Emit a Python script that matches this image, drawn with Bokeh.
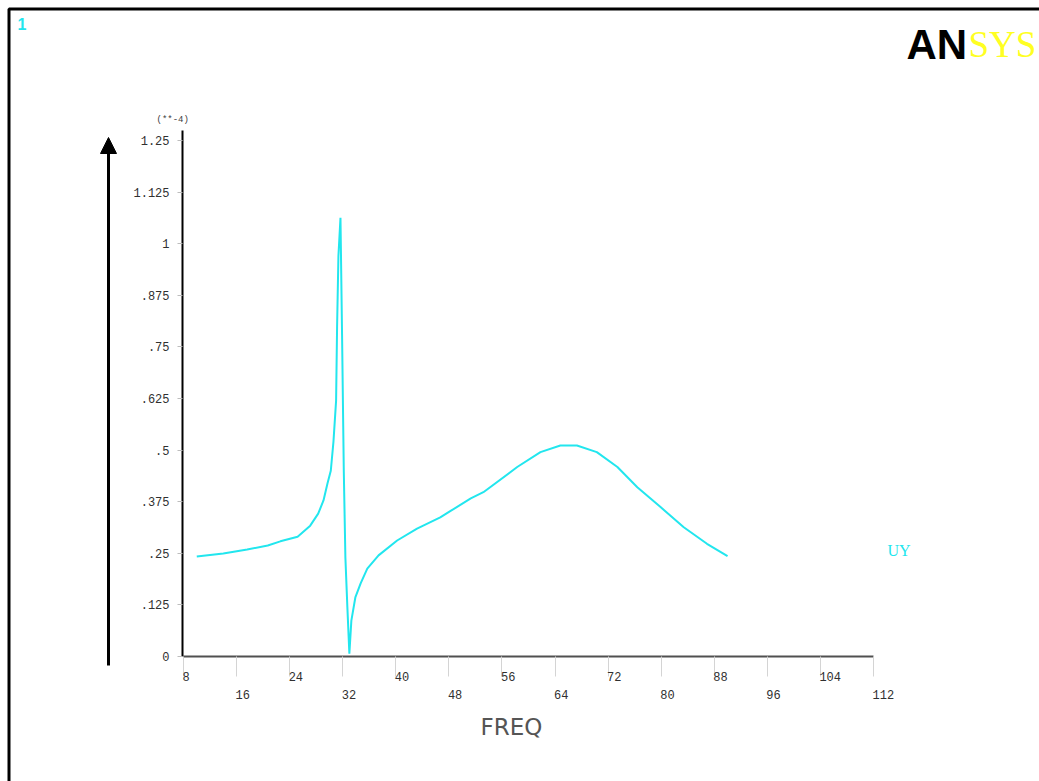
from bokeh.plotting import figure
from bokeh.models import (Range1d, FixedTicker, ColumnDataSource, LabelSet, Label,
                          Arrow, NormalHead)
from bokeh.core.properties import value
from bokeh.embed import file_html
from bokeh.resources import INLINE

# ---------------- data ----------------
freq = [10, 14, 17.6, 20.7, 22.6, 25.2, 27.1, 28.3, 29.1, 29.7, 30.2, 30.6, 31.0,
        31.15, 31.35, 31.66, 31.9, 32.16, 32.4, 32.7, 33.0, 33.3, 33.9, 34.7, 35.7,
        37.4, 40.2, 43.2, 46.7, 48.2, 51.3, 53.2, 58.3, 61.8, 64.8, 67.3, 70.3,
        73.4, 76.4, 79.9, 83.4, 86.9, 90]
uy = [0.242, 0.2495, 0.259, 0.269, 0.279, 0.29, 0.317, 0.346, 0.378, 0.419, 0.45,
      0.52, 0.62, 0.80, 0.97, 1.063, 0.778, 0.45, 0.24, 0.119, 0.007, 0.087, 0.143,
      0.177, 0.213, 0.245, 0.281, 0.31, 0.337, 0.352, 0.383, 0.398, 0.459, 0.495,
      0.511, 0.511, 0.495, 0.459, 0.41, 0.362, 0.313, 0.273, 0.243]

x_ticks = [8, 16, 24, 32, 40, 48, 56, 64, 72, 80, 88, 96, 104, 112]
x_tick_labels = ["8", "16", "24", "32", "40", "48", "56", "64", "72", "80", "88", "96", "104", "112"]
y_ticks = [0, 0.125, 0.25, 0.375, 0.5, 0.625, 0.75, 0.875, 1.0, 1.125, 1.25]
y_tick_labels = ["0", ".125", ".25", ".375", ".5", ".625", ".75", ".875", "1", "1.125", "1.25"]

X0, X1, Y0, Y1 = 8, 112, 0, 1.25
W, H = 1039, 781
FL, FR, FT, FB = 183, 873, 140, 656  # pixel positions of the plotting box


def px_x(px):
    return X0 + (px - FL) * (X1 - X0) / (FR - FL)


def px_y(py):
    return Y0 + (FB - py) * (Y1 - Y0) / (FB - FT)


# the frame covers the whole window so that nothing outside the axes box is clipped
p = figure(width=W, height=H, output_backend="svg", toolbar_location=None,
           x_range=Range1d(px_x(0), px_x(W)), y_range=Range1d(px_y(H), px_y(0)),
           min_border=0)
p.outline_line_color = None
p.grid.visible = False
p.background_fill_color = "white"
p.border_fill_color = "white"

CYAN = "#22e6ee"
MONO = "Liberation Mono"
TXT = "#303030"

# outer window border (top and left edges visible)
p.line([px_x(8.5), px_x(8.5), px_x(1060)], [px_y(800), px_y(8.5), px_y(8.5)],
       line_color="black", line_width=3)

p.line(freq, uy, line_color=CYAN, line_width=2)

# x axis (drawn at y = 0, limited to the data box)
xa = p.xaxis[0]
xa.fixed_location = Y0
xa.bounds = (X0, X1)
xa.ticker = FixedTicker(ticks=x_ticks)
xa.major_label_overrides = {t: "" for t in x_ticks}
xa.axis_line_color = "#505050"
xa.axis_line_width = 2
xa.major_tick_line_color = "#d4d4d4"
xa.major_tick_in = 0
xa.major_tick_out = 20
xa.minor_tick_line_color = None

# y axis (drawn at the left edge of the data box)
ya = p.yaxis[0]
ya.fixed_location = px_x(182)
ya.bounds = (Y0, px_y(130))
ya.ticker = FixedTicker(ticks=y_ticks)
ya.major_label_overrides = {t: l for t, l in zip(y_ticks, y_tick_labels)}
ya.axis_line_color = "black"
ya.axis_line_width = 2
ya.major_tick_line_color = "#bdbdbd"
ya.major_tick_in = 0
ya.major_tick_out = 5
ya.minor_tick_line_color = None
ya.major_label_standoff = 8
ya.major_label_text_font = MONO
ya.major_label_text_font_size = "12px"
ya.major_label_text_color = TXT

# alternating x tick labels (left aligned at each tick)
rows = [px_y(676) if i % 2 == 0 else px_y(694) for i in range(len(x_ticks))]
src = ColumnDataSource(dict(x=x_ticks, y=rows, t=x_tick_labels))
p.add_layout(LabelSet(x="x", y="y", text="t", source=src, x_offset=-1,
                      text_font=value(MONO), text_font_size=value("12px"),
                      text_color=TXT, text_baseline="middle", text_align="left"))

# axis title and exponent note
p.add_layout(Label(x=px_x(511), y=px_y(726), text="FREQ", text_font="DejaVu Sans",
                   text_font_size="23px", text_color="#555555", text_align="center",
                   text_baseline="middle"))
p.add_layout(Label(x=px_x(156), y=px_y(119), text="(**-4)", text_font=MONO,
                   text_font_size="9px", text_color="#404040", text_baseline="middle"))

# vertical arrow at the left
p.add_layout(Arrow(end=NormalHead(size=16, fill_color="black", line_color="black"),
                   x_start=px_x(108), y_start=px_y(665), x_end=px_x(108), y_end=px_y(137),
                   line_width=3, line_color="black"))

# curve label
p.add_layout(Label(x=px_x(887), y=px_y(550), text="UY", text_font="Liberation Serif",
                   text_font_size="16px", text_color=CYAN, text_baseline="alphabetic"))

# window number
p.add_layout(Label(x=px_x(17), y=px_y(23), text="1", text_font="Liberation Sans",
                   text_font_size="16px", text_font_style="bold", text_color=CYAN,
                   text_baseline="alphabetic"))

# logo
p.add_layout(Label(x=px_x(906), y=px_y(44), text="AN", text_font="Liberation Sans",
                   text_font_size="42px", text_font_style="bold", text_color="black",
                   text_baseline="alphabetic"))
p.add_layout(Label(x=px_x(968), y=px_y(44), text="SYS", text_font="Liberation Serif",
                   text_font_size="37px", text_color="#ffff22",
                   text_baseline="alphabetic"))

open("out.html", "w").write(file_html(p, INLINE))
